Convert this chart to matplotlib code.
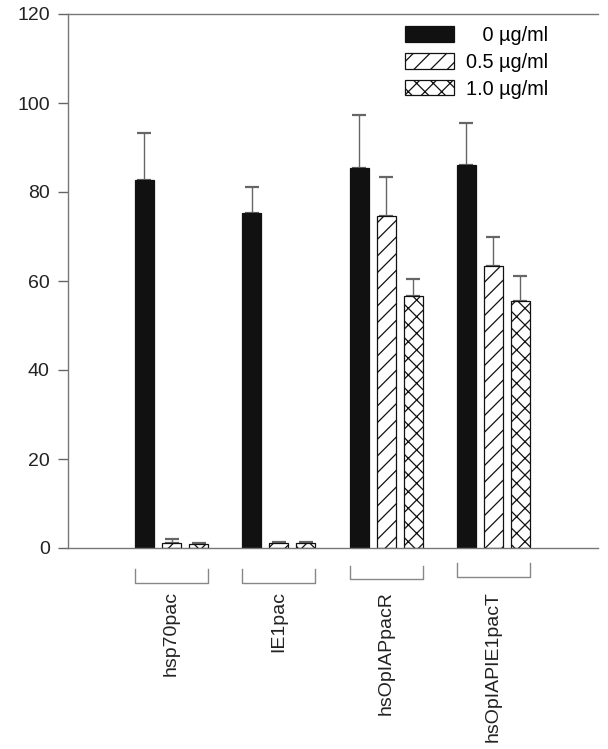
import matplotlib
matplotlib.use("Agg")
import matplotlib.pyplot as plt
import numpy as np
from matplotlib.transforms import blended_transform_factory

plt.rcParams['font.family'] = ['Liberation Sans', 'DejaVu Sans']
plt.rcParams['hatch.linewidth'] = 0.9

categories = ["hsp70pac", "IE1pac", "hsOpIAPpacR", "hsOpIAPIE1pacT"]
series_labels = ["0 \u00b5g/ml", "0.5 \u00b5g/ml", "1.0 \u00b5g/ml"]
vals_0 = [82.7, 75.3, 85.5, 86.1]
err_0 = [10.6, 5.9, 11.8, 9.3]
vals_05 = [1.1, 1.2, 74.6, 63.4]
err_05 = [0.9, 0.2, 8.7, 6.4]
vals_10 = [0.9, 1.1, 56.6, 55.6]
err_10 = [0.2, 0.2, 3.8, 5.5]
yticks = [0, 20, 40, 60, 80, 100, 120]

fig = plt.figure(figsize=(6.08, 7.49), dpi=100)
ax = fig.add_axes([68/608, 1-548/749, 530/608, 534/749])

x = np.arange(len(categories))
w = 0.177
off = 0.252
fills = ['#111111', 'white', 'white']
hatches = [None, '//', 'xx']
series = [(vals_0, err_0), (vals_05, err_05), (vals_10, err_10)]
for i, ((v, e), lab) in enumerate(zip(series, series_labels)):
    pos = x + (i - 1) * off
    ax.bar(pos, v, width=w, color=fills[i], edgecolor='#111111', linewidth=0.9,
           hatch=hatches[i], label=lab, zorder=2)
    ax.errorbar(pos, v, yerr=[np.zeros(len(v)), e], fmt='none', ecolor='#666666',
                elinewidth=1.0, capsize=5, capthick=1.6, zorder=1)

ax.set_xlim(-0.965, 3.975)
ax.set_ylim(0, 120)
ax.set_yticks(yticks)
ax.tick_params(axis='y', direction='out', length=7.2, width=1, color='#666666',
               labelsize=14, labelcolor='#222222', pad=6)
ax.set_xticks(x)
ax.set_xticklabels(categories, rotation=90, fontsize=14, color='#222222')
ax.tick_params(axis='x', length=0, pad=31)
for s in ['left', 'bottom', 'top']:
    ax.spines[s].set_color('#777777')
    ax.spines[s].set_linewidth(1.0)
ax.spines['right'].set_visible(False)

# group brackets under the axis
tr = blended_transform_factory(ax.transData, ax.transAxes)
ybot = [-0.065, -0.065, -0.058, -0.054]
for xi, yb in zip(x, ybot):
    x0 = xi - off - w / 2
    x1 = xi + off + w / 2
    ax.plot([x0, x0, x1, x1], [yb + 0.025, yb, yb, yb + 0.025], color='#888888',
            lw=1.0, transform=tr, clip_on=False)

leg = ax.legend(loc='upper left', bbox_to_anchor=(0.636, 0.978), frameon=False,
                fontsize=14.3, handlelength=2.47, handleheight=0.82,
                handletextpad=0.6, labelspacing=0.4, borderpad=0, borderaxespad=0)
# right-align legend labels by padding the shorter one with a digit-width and period-width space
texts = leg.get_texts()
texts[0].set_text("\u2007\u2008" + series_labels[0])

fig.savefig('out.png', dpi=100)
